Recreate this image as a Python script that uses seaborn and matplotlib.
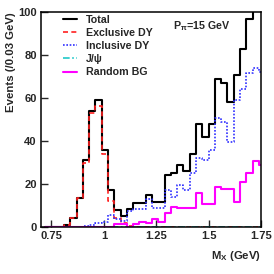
import numpy as np
import pandas as pd
import matplotlib
matplotlib.use("Agg")
import matplotlib.pyplot as plt
import seaborn as sns

# 35 bins of 0.03 GeV
bin_edges = [round(0.72 + 0.03 * i, 2) for i in range(36)]
bin_centers = [round((bin_edges[i] + bin_edges[i + 1]) / 2, 3) for i in range(35)]

total = [0, 0, 0, 1, 4, 13.5, 31, 54, 59, 36,
         17, 8, 5, 8.5, 11, 11, 15, 11.6, 11.6, 24,
         25, 29, 26, 34, 48, 42, 48, 69, 67, 58,
         70.7, 83, 96.7, 105, 105]
exclusive_dy = [0, 0, 0, 1, 4, 13.5, 30, 53, 56.5, 34,
                12, 4, 2, 0.5, 0, 0, 0, 0, 0, 0,
                0, 0, 0, 0, 0, 0, 0, 0, 0, 0,
                0, 0, 0, 0, 0]
inclusive_dy = [0, 0, 0, 0, 0, 0, 0.5, 1, 2, 2.5,
                5.5, 3.5, 3, 7.5, 8.5, 8.5, 13, 9, 9, 17,
                14, 19.5, 17.2, 25, 32, 31, 36, 50.5, 49, 39.5,
                59, 64, 71.5, 74, 72]
jpsi = [0] * 35
random_bg = [0, 0, 0, 0, 0, 0, 0, 0, 0, 0,
             0, 1.5, 1.5, 0, 1.5, 2.5, 2, 3.7, 2.5, 6.5,
             9.3, 8.8, 8.8, 8.8, 15.8, 10.7, 10.7, 18.6, 17.7, 17.7,
             11.6, 21, 25, 30.7, 29]

series = [
    ("Total", total, "black", "-"),
    ("Exclusive DY", exclusive_dy, "#ff2020", (0, (3, 2))),
    ("Inclusive DY", inclusive_dy, "#3030ff", (0, (1, 1))),
    ("J/\u03c8", jpsi, "#20c8c8", (0, (4, 1.5, 1, 1.5))),
    ("Random BG", random_bg, "#ff00ff", "-"),
]

sns.set_style("ticks")
plt.rcParams["font.family"] = ["Liberation Sans", "DejaVu Sans"]
plt.rcParams["font.weight"] = "bold"
plt.rcParams["mathtext.fontset"] = "custom"
plt.rcParams["mathtext.rm"] = "Liberation Sans:bold"
plt.rcParams["mathtext.it"] = "Liberation Sans:bold"
plt.rcParams["mathtext.bf"] = "Liberation Sans:bold"

fig = plt.figure(figsize=(2.74, 2.74), dpi=100)
ax = fig.add_axes([0.1496, 0.1715, 0.803, 0.7845])

handles = []
for label, vals, color, ls in series:
    df = pd.DataFrame({"mx": bin_centers, "w": vals})
    n_before = len(ax.lines)
    sns.histplot(data=df, x="mx", weights="w", bins=bin_edges, element="step",
                 fill=False, color=color, linestyle=ls,
                 linewidth=1.5 if color in ("black", "#ff00ff") else 1.2,
                 ax=ax)
    line = ax.lines[n_before]
    line.set_label(label)
    handles.append(line)

ax.set_xlim(0.7, 1.75)
ax.set_ylim(0, 100)
ax.set_xticks([0.75, 1, 1.25, 1.5, 1.75])
ax.set_xticklabels(["0.75", "1", "1.25", "1.5", "1.75"])
ax.set_yticks([0, 20, 40, 60, 80, 100])
ax.tick_params(direction="in", length=5, width=1, labelsize=8, pad=3)
for sp in ax.spines.values():
    sp.set_visible(True)
    sp.set_linewidth(1.1)
    sp.set_color("black")

ax.set_ylabel("Events (/0.03 GeV)", loc="top", fontsize=8.2, fontweight="bold")
ax.yaxis.set_label_coords(-0.115, 1.0)
ax.set_xlabel(r"M$_{\mathrm{X}}$ (GeV)", loc="right", fontsize=8.2, fontweight="bold")
ax.xaxis.set_label_coords(1.0, -0.1)

ax.legend(handles=handles, loc="upper left", bbox_to_anchor=(0.07, 1.018),
          frameon=False, fontsize=7.7, handlelength=1.35, handletextpad=0.85,
          labelspacing=0.3, borderaxespad=0.2)

ax.text(0.6, 0.968, "P$_{\\pi}$=15 GeV", transform=ax.transAxes,
        fontsize=7.7, fontweight="bold", va="top", ha="left")

fig.savefig("out.png", dpi=100)
